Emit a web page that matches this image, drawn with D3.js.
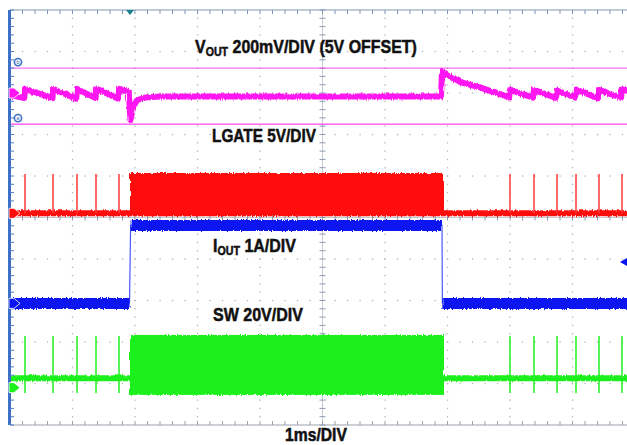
<!DOCTYPE html>
<html>
<head>
<meta charset="utf-8">
<script src="https://cdn.jsdelivr.net/npm/d3@7"></script>
<style>
  html, body { margin: 0; padding: 0; background: #fff; }
  svg { display: block; }
  .lbl { font-family: "Liberation Sans", Arial, sans-serif; font-weight: bold; font-size: 18px; fill: #111; stroke: #111; stroke-width: 0.5px; }
</style>
</head>
<body>
<svg id="scope" width="627" height="445"></svg>
<script>
// scope shot: pulse-skipping -> PWM load step, 1ms/div
// time in ms, each channel in its own units

const timeDivs = d3.range(0, 11);          // 10 horizontal divisions
const vertDivs = d3.range(-5, 6);          // 10 vertical divisions

// channel settings: units per div and ground / offset position (div)
const chScale = { vout: 0.2, lgate: 5, iout: 1, sw: 20 };
const chPos = { vout: 3.0, lgate: 0.1, iout: -2.07, sw: -4.1 };
const voutOffset = 5.0;

// VOUT (V)
const voutT = [0, 0.23, 0.24, 0.68, 0.688, 1.06, 1.072, 1.37, 1.376, 1.735, 1.744, 1.9,
  1.928, 1.968, 2.032, 2.16, 2.4, 6.896, 6.912, 7.04, 7.2, 7.36, 7.52, 7.68, 7.84, 7.985,
  8.0, 8.368, 8.384, 8.736, 8.752, 9.04, 9.056, 9.408, 9.424, 9.776, 9.792, 9.9];
const voutV = [4.99, 4.976, 5.02, 4.975, 5.02, 4.972, 5.02, 4.975, 5.022, 4.972, 5.02, 5.004,
  4.87, 4.93, 4.965, 4.978, 4.983, 4.983, 5.106, 5.082, 5.054, 5.039, 5.027, 5.010, 4.995, 4.979,
  5.015, 4.978, 5.015, 4.976, 5.012, 4.978, 5.017, 4.975, 5.015, 4.977, 5.017, 5.01];

// skipped-cycle pulses (LGATE and SW fire together)
const pulseT = [0.24, 0.688, 1.072, 1.376, 1.744, 8.0, 8.384, 8.752, 9.056, 9.424, 9.792];

// continuous switching burst while loaded
const burstT = [1.92, 6.944];
const lgateBurstV = [-0.32, 4.86];
const swBurstV = [-3.5, 25.4];

// LGATE (V)
const lgateBaseV = 0;
const lgatePulseV = 4.74;

// SW (V)
const swBaseV = 4.5;
const swPulseV = [-2.6, 24.9];

// IOUT (A): flat levels, edges between them
const ioutT = [0, 1.912, 1.93, 6.912, 6.918, 10];
const ioutA = [0.0, 0.0, 1.88, 1.88, 0.0, 0.0];

const trigT = 1.92;
const trigIout = 1.0;
const cursorVout = [5.12, 4.85];   // cursor b, cursor a

// label text and the width each takes in the shot
const labels = [
  { main: 'V', sub: 'OUT', rest: ' 200mV/DIV (5V OFFSET)', x: 195, y: 53, w: 222 },
  { main: 'LGATE 5V/DIV', x: 212, y: 142, w: 104 },
  { main: 'I', sub: 'OUT', rest: ' 1A/DIV', x: 213, y: 252, w: 83 },
  { main: 'SW 20V/DIV', x: 213, y: 321, w: 90 },
  { main: '1ms/DIV', x: 285, y: 441, w: 62 },
];

const col = { vout: '#ff14f0', lgate: '#ff0a0a', iout: '#0a14f0', sw: '#1ef01e' };

const svg = d3.select('#scope');
const x = d3.scaleLinear().domain([0, 10]).range([10, 635]);
const y = d3.scaleLinear().domain([-5, 5]).range([425, 10]);
const toDiv = (ch, v) => chPos[ch] + (ch === 'vout' ? v - voutOffset : v) / chScale[ch];
const yc = (ch, v) => y(toDiv(ch, v));

// noise look for the traces
const defs = svg.append('defs');
const filt = defs.append('filter').attr('id', 'jit')
  .attr('filterUnits', 'userSpaceOnUse')
  .attr('x', 0).attr('y', 0).attr('width', 627).attr('height', 445);
filt.append('feTurbulence').attr('type', 'fractalNoise')
  .attr('baseFrequency', '0.8 0.06').attr('numOctaves', 2).attr('seed', 4).attr('result', 'n');
filt.append('feDisplacementMap').attr('in', 'SourceGraphic').attr('in2', 'n')
  .attr('scale', 3.5).attr('xChannelSelector', 'G').attr('yChannelSelector', 'R');

// ---- graticule ----
const grid = svg.append('g');
const minorX = d3.range(0, 10.01, 0.2);
const minorY = d3.range(-5, 5.01, 0.2);
timeDivs.filter(d => d > 0 && d < 10 && d !== 5).forEach(d => {
  grid.selectAll(null).data(minorY.slice(1, -1)).enter().append('rect')
    .attr('x', x(d) - 0.6).attr('y', v => y(v) - 0.6).attr('width', 1.3).attr('height', 1.3)
    .attr('fill', '#b4b4b4');
});
vertDivs.filter(d => d > -5 && d < 5 && d !== 0).forEach(d => {
  grid.selectAll(null).data(minorX.slice(1, -1)).enter().append('rect')
    .attr('x', t => x(t) - 0.6).attr('y', y(d) - 0.6).attr('width', 1.3).attr('height', 1.3)
    .attr('fill', '#b4b4b4');
});
// center cross with ticks
grid.append('line').attr('x1', x(5)).attr('x2', x(5)).attr('y1', y(5)).attr('y2', y(-5))
  .attr('stroke', '#c3cad6').attr('stroke-width', 1);
grid.append('line').attr('x1', x(0)).attr('x2', x(10)).attr('y1', y(0)).attr('y2', y(0))
  .attr('stroke', '#c3cad6').attr('stroke-width', 1);
grid.selectAll(null).data(minorY).enter().append('line')
  .attr('x1', x(5) - 3).attr('x2', x(5) + 3).attr('y1', v => y(v)).attr('y2', v => y(v))
  .attr('stroke', '#8d9ab0');
grid.selectAll(null).data(minorX).enter().append('line')
  .attr('y1', y(0) - 3).attr('y2', y(0) + 3).attr('x1', t => x(t)).attr('x2', t => x(t))
  .attr('stroke', '#8d9ab0');
// top and bottom borders
grid.append('line').attr('x1', x(0)).attr('x2', x(10)).attr('y1', y(5)).attr('y2', y(5))
  .attr('stroke', '#7f95b6');
grid.selectAll(null).data(minorX).enter().append('line')
  .attr('x1', t => x(t)).attr('x2', t => x(t)).attr('y1', y(5)).attr('y2', y(5) + 4)
  .attr('stroke', '#7f95b6');
grid.append('line').attr('x1', x(0)).attr('x2', x(10)).attr('y1', y(-5)).attr('y2', y(-5))
  .attr('stroke', '#9aa0ad');
grid.selectAll(null).data(minorX).enter().append('line')
  .attr('x1', t => x(t)).attr('x2', t => x(t)).attr('y1', y(-5)).attr('y2', y(-5) - 4)
  .attr('stroke', '#9aa0ad');

// ---- traces ----
const tr = svg.append('g');
const lineOf = ch => d3.line().x(d => x(d[0])).y(d => yc(ch, d[1]));

// IOUT: noisy flat levels, thin edges
const ioutPts = d3.zip(ioutT, ioutA);
const ioutLevels = [[ioutPts[0], ioutPts[1]], [ioutPts[2], ioutPts[3]], [ioutPts[4], ioutPts[5]]];
tr.append('path').datum(ioutPts.slice(1, 5))
  .attr('d', lineOf('iout')).attr('fill', 'none')
  .attr('stroke', '#4a55ff').attr('stroke-width', 1.2);
tr.selectAll(null).data(ioutLevels).enter().append('path')
  .attr('d', lineOf('iout')).attr('fill', 'none')
  .attr('stroke', col.iout).attr('stroke-width', 11).attr('filter', 'url(#jit)');

// LGATE
tr.append('line').attr('x1', x(0)).attr('x2', x(10))
  .attr('y1', yc('lgate', lgateBaseV)).attr('y2', yc('lgate', lgateBaseV))
  .attr('stroke', col.lgate).attr('stroke-width', 6).attr('filter', 'url(#jit)');
tr.selectAll(null).data(pulseT).enter().append('line')
  .attr('x1', t => x(t)).attr('x2', t => x(t))
  .attr('y1', yc('lgate', lgateBaseV)).attr('y2', yc('lgate', lgatePulseV))
  .attr('stroke', '#ff3a3a').attr('stroke-width', 1.5);
tr.append('rect')
  .attr('x', x(burstT[0])).attr('width', x(burstT[1]) - x(burstT[0]))
  .attr('y', yc('lgate', lgateBurstV[1]))
  .attr('height', yc('lgate', lgateBurstV[0]) - yc('lgate', lgateBurstV[1]))
  .attr('fill', col.lgate).attr('filter', 'url(#jit)');

// SW
tr.append('line').attr('x1', x(0)).attr('x2', x(10))
  .attr('y1', yc('sw', swBaseV)).attr('y2', yc('sw', swBaseV))
  .attr('stroke', col.sw).attr('stroke-width', 6).attr('filter', 'url(#jit)');
tr.selectAll(null).data(pulseT).enter().append('line')
  .attr('x1', t => x(t)).attr('x2', t => x(t))
  .attr('y1', yc('sw', swPulseV[0])).attr('y2', yc('sw', swPulseV[1]))
  .attr('stroke', col.sw).attr('stroke-width', 1.5);
tr.append('rect')
  .attr('x', x(burstT[0])).attr('width', x(burstT[1]) - x(burstT[0]))
  .attr('y', yc('sw', swBurstV[1]))
  .attr('height', yc('sw', swBurstV[0]) - yc('sw', swBurstV[1]))
  .attr('fill', col.sw).attr('filter', 'url(#jit)');

// VOUT cursors
cursorVout.forEach((v, i) => {
  tr.append('line').attr('x1', x(0)).attr('x2', x(10))
    .attr('y1', yc('vout', v)).attr('y2', yc('vout', v))
    .attr('stroke', col.vout).attr('stroke-width', 1).attr('opacity', i === 0 ? 0.75 : 1);
});
// VOUT
tr.append('path').datum(d3.zip(voutT, voutV))
  .attr('d', lineOf('vout')).attr('fill', 'none')
  .attr('stroke', col.vout).attr('stroke-width', 6).attr('stroke-linejoin', 'round')
  .attr('filter', 'url(#jit)');

// ---- left border + markers ----
svg.append('line').attr('x1', 9.5).attr('x2', 9.5).attr('y1', y(5)).attr('y2', y(-5))
  .attr('stroke', '#3d70c6').attr('stroke-width', 3);
svg.selectAll(null).data(minorY).enter().append('line')
  .attr('x1', 10).attr('x2', 14).attr('y1', v => y(v)).attr('y2', v => y(v))
  .attr('stroke', '#4d7ccc');

const chList = ['vout', 'lgate', 'iout', 'sw'];
chList.forEach(ch => {
  const yy = y(chPos[ch]);
  svg.append('path')
    .attr('d', `M9,${yy - 5}L14,${yy - 5}L20,${yy}L14,${yy + 5}L9,${yy + 5}Z`)
    .attr('fill', col[ch]).attr('stroke', '#fff').attr('stroke-width', 0.8);
});

// cursor tags
['b', 'a'].forEach((k, i) => {
  const yy = yc('vout', cursorVout[i]) - 6;
  svg.append('circle').attr('cx', 18).attr('cy', yy).attr('r', 3.6)
    .attr('fill', '#fff').attr('stroke', '#3d70c6').attr('stroke-width', 1.6);
  svg.append('text').attr('x', 18).attr('y', yy + 2).attr('text-anchor', 'middle')
    .attr('font-family', 'DejaVu Sans').attr('font-size', 5.5).attr('fill', '#3d70c6').text(k);
});

// trigger position and level
svg.append('path')
  .attr('d', `M${x(trigT) - 4},${y(5)}L${x(trigT) + 4},${y(5)}L${x(trigT)},${y(5) + 5}Z`)
  .attr('fill', '#1b7f8c');
const ty = yc('iout', trigIout);
svg.append('path').attr('d', `M620,${ty}L627,${ty - 4}L627,${ty + 4}Z`).attr('fill', col.iout);

// ---- labels (condensed to the widths in the shot) ----
labels.forEach(L => {
  const t = svg.append('text').attr('class', 'lbl')
    .attr('font-size', L.y > 430 ? 17 : 18);
  t.append('tspan').text(L.main);
  if (L.sub) {
    t.append('tspan').attr('font-size', 12).attr('dy', 3).text(L.sub);
    t.append('tspan').attr('dy', -3).text(L.rest);
  }
  const w = t.node().getComputedTextLength();
  t.attr('transform', `translate(${L.x},${L.y}) scale(${L.w / w},1)`);
});
</script>
</body>
</html>
